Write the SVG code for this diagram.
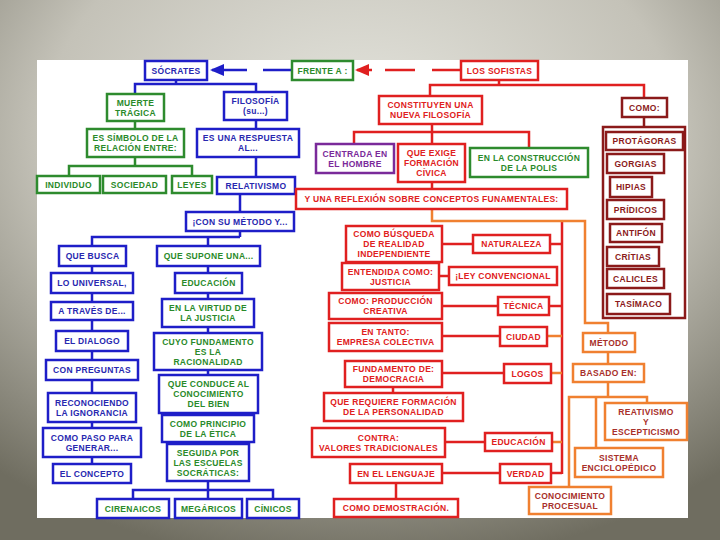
<svg xmlns="http://www.w3.org/2000/svg" width="720" height="540" viewBox="0 0 720 540">
<defs>
<radialGradient id="bg" cx="50%" cy="25%" r="80%">
<stop offset="0" stop-color="#e6e6df"/>
<stop offset="0.55" stop-color="#c4c2b8"/>
<stop offset="1" stop-color="#6f6d60"/>
</radialGradient>
<marker id="ab" markerUnits="userSpaceOnUse" markerWidth="14" markerHeight="12" refX="12" refY="6" viewBox="0 0 14 12" orient="auto"><path d="M0,0 L14,6 L0,12 z" fill="#1e1ec8"/></marker>
<marker id="ar" markerUnits="userSpaceOnUse" markerWidth="14" markerHeight="12" refX="12" refY="6" viewBox="0 0 14 12" orient="auto"><path d="M0,0 L14,6 L0,12 z" fill="#e02020"/></marker>
</defs>
<style>
rect.n{fill:#fff;stroke-width:2.5}
.b{stroke:#1e1ec8}.g{stroke:#2e8b2e}.r{stroke:#e02020}.d{stroke:#8b1a1a}.p{stroke:#7a2a9a}.o{stroke:#f08030}
text{font-family:"Liberation Sans",Arial,sans-serif;font-weight:bold;font-size:8.5px;letter-spacing:0.3px;text-anchor:middle}
.tb{fill:#2828b0}.tg{fill:#2a8a2a}.tr{fill:#e02020}.td{fill:#8b1a1a}.tp{fill:#7a2a9a}.to{fill:#a8302a}
#conn path{fill:none;stroke-width:2.5}
</style>
<rect x="0" y="0" width="720" height="540" fill="url(#bg)"/>
<rect x="37" y="60" width="651" height="458" fill="#fff"/>
<g id="conn">
<path class="b" d="M292,70 H212" stroke-dasharray="29 16 40" marker-end="url(#ab)"/>
<path class="r" d="M461,70 H357" stroke-dasharray="29 17 30 13 20" marker-end="url(#ar)"/>
<path class="b" d="M176,80 V84 M135,94 V84 H256 V92 M256,120 V129 M256,157 V177 M240,194 V212 M240,231 V237 M92,246 V237 H240 M208,237 V246 M92,266 V464 M208,266 V444 M208,481 V499 M133,499 V490 H273 V499"/>
<path class="g" d="M135,121 V129 M135,157 V166 M69,176 V166 H192 V176"/>
<path class="r" d="M499,80 V85 M430,96 V85 H644 V98 M432,124 V132 M354,144 V132 H529 V148 M432,132 V144 M432,182 V189 M562,222 V474 M442,244 H473 M550,244 H562 M439,276 H449 M442,306 H498 M549,306 H562 M442,336 H500 M442,373 H504 M393,387 V393 M445,442 H485 M442,473 H500 M551,473 H562 M396,483 V499"/>
<path class="o" d="M547,336 H562 M551,373 H562 M552,442 H562 M432,209 V221 H585 V323 H608 V333 M608,352 V364 M608,382 V397 M569,487 V397 H647 V403 M596,397 V448"/>
<path class="d" d="M644,117 V127"/>
</g>
<g id="socrates"><rect class="n b" x="145" y="61" width="62" height="19"/><text class="tb" x="176" y="73.5">SÓCRATES</text></g>
<g id="frente"><rect class="n g" x="292" y="61" width="61" height="19"/><text class="tg" x="322.5" y="73.5">FRENTE A :</text></g>
<g id="sofistas"><rect class="n r" x="461" y="61" width="77" height="19"/><text class="tr" x="499.5" y="73.5">LOS SOFISTAS</text></g>
<g id="muerte"><rect class="n g" x="107" y="94" width="57" height="27"/><text class="tg" x="135.5" y="105.5">MUERTE<tspan x="135.5" dy="10">TRÁGICA</tspan></text></g>
<g id="filosofia"><rect class="n b" x="224" y="92" width="63" height="28"/><text class="tb" x="255.5" y="104">FILOSOFÍA<tspan x="255.5" dy="10">(su...)</tspan></text></g>
<g id="simbolo"><rect class="n g" x="87" y="129" width="97" height="28"/><text class="tg" x="135.5" y="141">ES SÍMBOLO DE LA<tspan x="135.5" dy="10">RELACIÓN ENTRE:</tspan></text></g>
<g id="respuesta"><rect class="n b" x="197" y="129" width="102" height="28"/><text class="tb" x="248" y="141">ES UNA RESPUESTA<tspan x="248" dy="10">AL...</tspan></text></g>
<g id="individuo"><rect class="n g" x="37" y="176" width="63" height="17"/><text class="tg" x="68.5" y="187.5">INDIVIDUO</text></g>
<g id="sociedad"><rect class="n g" x="103" y="176" width="63" height="17"/><text class="tg" x="134.5" y="187.5">SOCIEDAD</text></g>
<g id="leyes"><rect class="n g" x="172" y="176" width="40" height="17"/><text class="tg" x="192" y="187.5">LEYES</text></g>
<g id="relativismo"><rect class="n b" x="217" y="177" width="78" height="17"/><text class="tb" x="256" y="188.5">RELATIVISMO</text></g>
<g id="con_metodo"><rect class="n b" x="186" y="212" width="108" height="19"/><text class="tb" x="240" y="224.5">¡CON SU MÉTODO Y...</text></g>
<g id="que_busca"><rect class="n b" x="59" y="246" width="67" height="20"/><text class="tb" x="92.5" y="259">QUE BUSCA</text></g>
<g id="universal"><rect class="n b" x="51" y="273" width="82" height="20"/><text class="tb" x="92" y="286">LO UNIVERSAL,</text></g>
<g id="traves"><rect class="n b" x="51" y="302" width="82" height="18"/><text class="tb" x="92" y="314">A TRAVÉS DE...</text></g>
<g id="dialogo"><rect class="n b" x="56" y="331" width="72" height="20"/><text class="tb" x="92" y="344">EL DIALOGO</text></g>
<g id="preguntas"><rect class="n b" x="46" y="360" width="92" height="20"/><text class="tb" x="92" y="373">CON PREGUNTAS</text></g>
<g id="reconociendo"><rect class="n b" x="48" y="393" width="88" height="29"/><text class="tb" x="92" y="405.5">RECONOCIENDO<tspan x="92" dy="10">LA IGNORANCIA</tspan></text></g>
<g id="paso"><rect class="n b" x="43" y="428" width="98" height="29"/><text class="tb" x="92" y="440.5">COMO PASO PARA<tspan x="92" dy="10">GENERAR...</tspan></text></g>
<g id="concepto"><rect class="n b" x="53" y="464" width="78" height="19"/><text class="tb" x="92" y="476.5">EL CONCEPTO</text></g>
<g id="supone"><rect class="n b" x="157" y="246" width="103" height="20"/><text class="tg" x="208.5" y="259">QUE SUPONE UNA...</text></g>
<g id="educacion_s"><rect class="n b" x="175" y="273" width="67" height="20"/><text class="tg" x="208.5" y="286">EDUCACIÓN</text></g>
<g id="virtud"><rect class="n b" x="162" y="299" width="92" height="28"/><text class="tg" x="208" y="311">EN LA VIRTUD DE<tspan x="208" dy="10">LA JUSTICIA</tspan></text></g>
<g id="fundamento_s"><rect class="n b" x="154" y="333" width="108" height="37"/><text class="tg" x="208" y="345">CUYO FUNDAMENTO<tspan x="208" dy="10">ES LA</tspan><tspan x="208" dy="10">RACIONALIDAD</tspan></text></g>
<g id="conduce"><rect class="n b" x="159" y="375" width="99" height="38"/><text class="tg" x="208.5" y="387">QUE CONDUCE AL<tspan x="208.5" dy="10">CONOCIMIENTO</tspan><tspan x="208.5" dy="10">DEL BIEN</tspan></text></g>
<g id="principio"><rect class="n b" x="162" y="415" width="92" height="27"/><text class="tg" x="208" y="426.5">COMO PRINCIPIO<tspan x="208" dy="10">DE LA ÉTICA</tspan></text></g>
<g id="seguida"><rect class="n b" x="167" y="444" width="82" height="37"/><text class="tg" x="208" y="456">SEGUIDA POR<tspan x="208" dy="10">LAS ESCUELAS</tspan><tspan x="208" dy="10">SOCRÁTICAS:</tspan></text></g>
<g id="cirenaicos"><rect class="n b" x="97" y="499" width="72" height="19"/><text class="tg" x="133" y="511.5">CIRENAICOS</text></g>
<g id="megaricos"><rect class="n b" x="175" y="499" width="67" height="19"/><text class="tg" x="208.5" y="511.5">MEGÁRICOS</text></g>
<g id="cinicos"><rect class="n b" x="247" y="499" width="52" height="19"/><text class="tg" x="273" y="511.5">CÍNICOS</text></g>
<g id="constituyen"><rect class="n r" x="379" y="96" width="103" height="28"/><text class="tr" x="430.5" y="108">CONSTITUYEN UNA<tspan x="430.5" dy="10">NUEVA FILOSOFÍA</tspan></text></g>
<g id="como"><rect class="n d" x="622" y="98" width="45" height="19"/><text class="td" x="644.5" y="110.5">COMO:</text></g>
<g id="centrada"><rect class="n p" x="316" y="144" width="78" height="29"/><text class="tp" x="355" y="156.5">CENTRADA EN<tspan x="355" dy="10">EL HOMBRE</tspan></text></g>
<g id="exige"><rect class="n r" x="398" y="144" width="67" height="38"/><text class="tr" x="431.5" y="156">QUE EXIGE<tspan x="431.5" dy="10">FORMACIÓN</tspan><tspan x="431.5" dy="10">CÍVICA</tspan></text></g>
<g id="polis"><rect class="n g" x="470" y="148" width="118" height="29"/><text class="tg" x="529" y="160.5">EN LA CONSTRUCCIÓN<tspan x="529" dy="10">DE LA POLIS</tspan></text></g>
<g id="reflexion"><rect class="n r" x="296" y="189" width="271" height="20"/><text class="tr" x="431.5" y="202">Y UNA REFLEXIÓN SOBRE CONCEPTOS FUNAMENTALES:</text></g>
<g id="sofistas_lista"><rect class="n d" x="603" y="127" width="82" height="191"/></g>
<g id="protagoras"><rect class="n d" x="606" y="132" width="77" height="18"/><text class="td" x="644.5" y="144">PROTÁGORAS</text></g>
<g id="gorgias"><rect class="n d" x="607" y="154" width="57" height="19"/><text class="td" x="635.5" y="166.5">GORGIAS</text></g>
<g id="hipias"><rect class="n d" x="610" y="177" width="42" height="20"/><text class="td" x="631" y="190">HIPIAS</text></g>
<g id="pridicos"><rect class="n d" x="607" y="200" width="57" height="19"/><text class="td" x="635.5" y="212.5">PRÍDICOS</text></g>
<g id="antifon"><rect class="n d" x="610" y="224" width="52" height="18"/><text class="td" x="636" y="236">ANTIFÓN</text></g>
<g id="critias"><rect class="n d" x="607" y="247" width="52" height="19"/><text class="td" x="633" y="259.5">CRÍTIAS</text></g>
<g id="calicles"><rect class="n d" x="607" y="269" width="57" height="19"/><text class="td" x="635.5" y="281.5">CALICLES</text></g>
<g id="tasimaco"><rect class="n d" x="607" y="294" width="63" height="20"/><text class="td" x="638.5" y="307">TASÍMACO</text></g>
<g id="busqueda"><rect class="n r" x="346" y="226" width="96" height="36"/><text class="tr" x="394" y="237">COMO BÚSQUEDA<tspan x="394" dy="10">DE REALIDAD</tspan><tspan x="394" dy="10">INDEPENDIENTE</tspan></text></g>
<g id="entendida"><rect class="n r" x="342" y="263" width="97" height="27"/><text class="tr" x="390.5" y="274.5">ENTENDIDA COMO:<tspan x="390.5" dy="10">JUSTICIA</tspan></text></g>
<g id="produccion"><rect class="n r" x="329" y="293" width="113" height="26"/><text class="tr" x="385.5" y="304">COMO: PRODUCCIÓN<tspan x="385.5" dy="10">CREATIVA</tspan></text></g>
<g id="tanto"><rect class="n r" x="329" y="323" width="113" height="28"/><text class="tr" x="385.5" y="335">EN TANTO:<tspan x="385.5" dy="10">EMPRESA COLECTIVA</tspan></text></g>
<g id="democracia"><rect class="n r" x="345" y="361" width="97" height="26"/><text class="tr" x="393.5" y="372">FUNDAMENTO DE:<tspan x="393.5" dy="10">DEMOCRACIA</tspan></text></g>
<g id="requiere"><rect class="n r" x="324" y="393" width="139" height="28"/><text class="tr" x="393.5" y="405">QUE REQUIERE FORMACIÓN<tspan x="393.5" dy="10">DE LA PERSONALIDAD</tspan></text></g>
<g id="contra"><rect class="n r" x="312" y="428" width="133" height="29"/><text class="tr" x="378.5" y="440.5">CONTRA:<tspan x="378.5" dy="10">VALORES TRADICIONALES</tspan></text></g>
<g id="lenguaje"><rect class="n r" x="350" y="464" width="92" height="19"/><text class="tr" x="396" y="476.5">EN EL LENGUAJE</text></g>
<g id="demostracion"><rect class="n r" x="334" y="499" width="124" height="18"/><text class="tr" x="396" y="511">COMO DEMOSTRACIÓN.</text></g>
<g id="naturaleza"><rect class="n r" x="473" y="235" width="77" height="18"/><text class="tr" x="511.5" y="247">NATURALEZA</text></g>
<g id="ley"><rect class="n r" x="449" y="267" width="108" height="18"/><text class="tr" x="503" y="279">¡LEY CONVENCIONAL</text></g>
<g id="tecnica"><rect class="n r" x="498" y="297" width="51" height="18"/><text class="tr" x="523.5" y="309">TÉCNICA</text></g>
<g id="ciudad"><rect class="n r" x="500" y="327" width="47" height="19"/><text class="tr" x="523.5" y="339.5">CIUDAD</text></g>
<g id="logos"><rect class="n r" x="504" y="364" width="47" height="19"/><text class="tr" x="527.5" y="376.5">LOGOS</text></g>
<g id="educacion_r"><rect class="n r" x="485" y="433" width="67" height="18"/><text class="tr" x="518.5" y="445">EDUCACIÓN</text></g>
<g id="verdad"><rect class="n r" x="500" y="464" width="51" height="19"/><text class="tr" x="525.5" y="476.5">VERDAD</text></g>
<g id="metodo"><rect class="n o" x="583" y="333" width="52" height="19"/><text class="to" x="609" y="345.5">MÉTODO</text></g>
<g id="basado"><rect class="n o" x="573" y="364" width="71" height="18"/><text class="to" x="608.5" y="376">BASADO EN:</text></g>
<g id="reativismo"><rect class="n o" x="605" y="403" width="82" height="37"/><text class="to" x="646" y="415">REATIVISMO<tspan x="646" dy="10">Y</tspan><tspan x="646" dy="10">ESCEPTICISMO</tspan></text></g>
<g id="sistema"><rect class="n o" x="575" y="448" width="88" height="29"/><text class="to" x="619" y="460.5">SISTEMA<tspan x="619" dy="10">ENCICLOPÉDICO</tspan></text></g>
<g id="conocimiento"><rect class="n o" x="529" y="487" width="82" height="27"/><text class="to" x="570" y="498.5">CONOCIMIENTO<tspan x="570" dy="10">PROCESUAL</tspan></text></g>
</svg>
